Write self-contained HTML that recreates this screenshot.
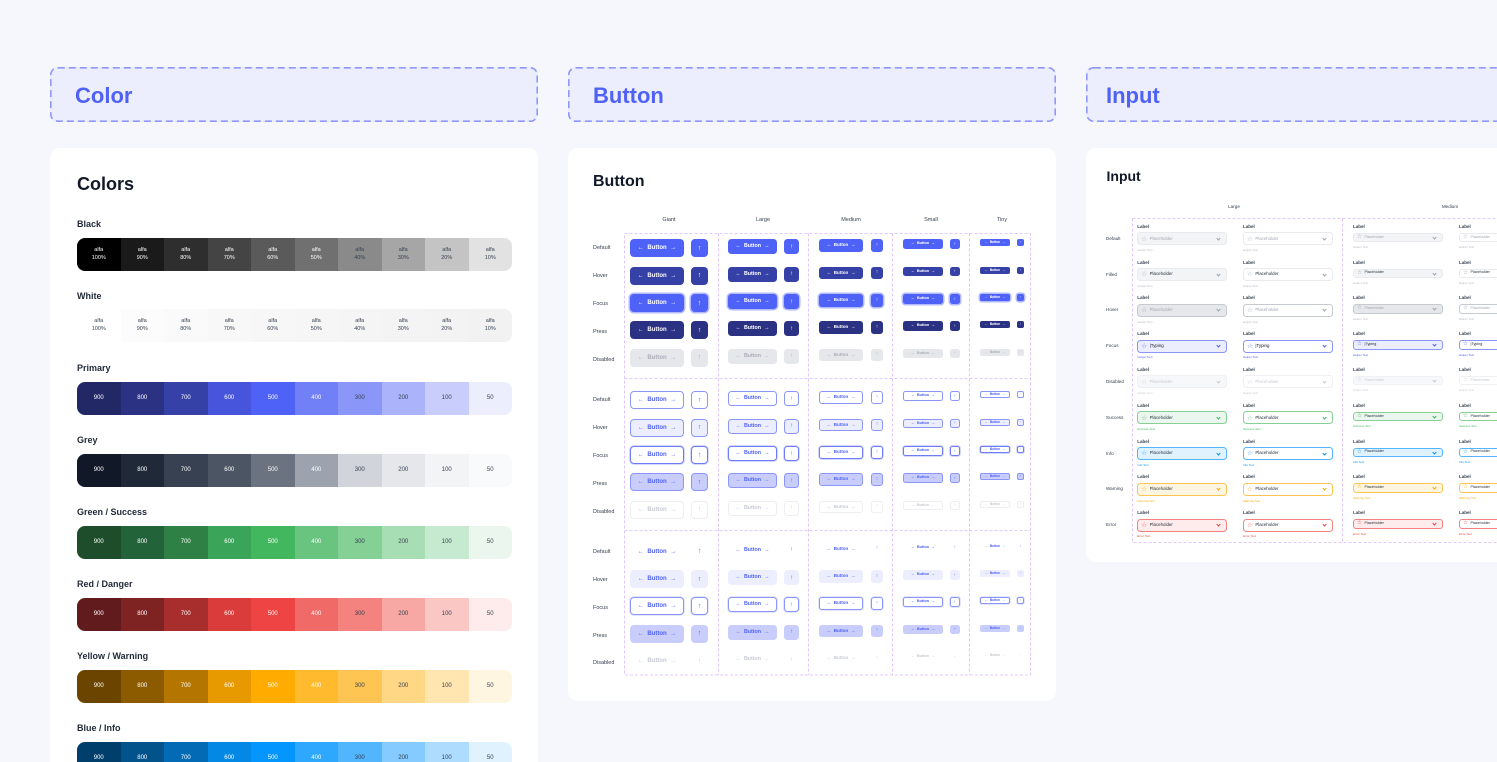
<!DOCTYPE html>
<html><head><meta charset="utf-8">
<style>
*{margin:0;padding:0}
html{width:1497px;height:762px;overflow:hidden}
body{width:1497px;height:762px;overflow:hidden;background:#f6f7fc;font-family:"Liberation Sans",sans-serif;position:relative}
.abs{position:absolute;white-space:nowrap}
.card{position:absolute;background:#fff;border-radius:10px}
.hd{position:absolute;background:#eceefd;border-radius:7px}
.ht{position:absolute;font-size:22px;line-height:24px;font-weight:bold;color:#5061f5}
.ct{position:absolute;font-weight:bold;color:#111827;white-space:nowrap}
.cl{position:absolute;left:77px;font-size:9px;line-height:12px;font-weight:bold;color:#1f2937}
.sw{position:absolute;left:77px;width:435px;height:33px;border-radius:8px;overflow:hidden;display:flex}
.sw div{flex:1;display:flex;align-items:center;justify-content:center;font-size:6px;color:#374151;text-align:center;line-height:1.4}
.sw .w{color:#fff}
.sw.al div{font-size:5.5px}
.lab{position:absolute;font-size:5.5px;line-height:6px;color:#374151;white-space:nowrap}
.colh{position:absolute;font-size:5.5px;line-height:6px;color:#374151;transform:translateX(-50%);white-space:nowrap}
.row{position:absolute;left:0;height:0;width:0}
.b{position:absolute;top:0;box-sizing:border-box;display:flex;align-items:center;justify-content:center;gap:.6em;font-weight:bold;white-space:nowrap;line-height:1}
.b i{font-style:normal;font-weight:normal}
.g{left:630px;width:54px;height:18px;border-radius:4px;font-size:6px}
.gi{left:691px;width:17px;height:18px;border-radius:4px;font-size:7px}
.l{left:728px;width:49px;height:15px;border-radius:3.5px;font-size:5.3px}
.li{left:784px;width:15px;height:15px;border-radius:3.5px;font-size:6px}
.m{left:819px;width:44px;height:12.5px;border-radius:3px;font-size:4.5px}
.mi{left:871px;width:12px;height:12.5px;border-radius:3px;font-size:5px}
.s{left:903px;width:40px;height:9.5px;border-radius:2.5px;font-size:3.8px}
.si{left:950px;width:9.5px;height:9.5px;border-radius:2.5px;font-size:4px}
.t{left:980px;width:30px;height:7px;border-radius:2px;font-size:3.2px}
.ti{left:1017px;width:7px;height:7px;border-radius:2px;font-size:3.2px}
.a1{background:#4f62f7;color:#fff}
.a2{background:#3641a8;color:#fff}
.a3{background:#4f62f7;color:#fff;box-shadow:0 0 0 1.5px #b3bafb}
.a4{background:#2b3183;color:#fff}
.a5{background:#e5e7eb;color:#a9aeb8}
.o1{background:#fff;border:1px solid #8b96f9;color:#4f62f7}
.o2{background:#eceefe;border:1px solid #8b96f9;color:#4f62f7}
.o3{background:#fff;border:1.5px solid #6f7cf8;color:#4f62f7;box-shadow:0 0 0 1px #d4d8fd}
.o4{background:#c8cdfc;border:1px solid #8b96f9;color:#4f62f7}
.o5{background:#fff;border:1px solid #eceef1;color:#c6cad2}
.h1{color:#4f62f7}
.h2{background:#eceefe;color:#4f62f7}
.h3{background:#fff;border:1px solid #8b96f9;color:#4f62f7;box-shadow:0 0 0 1px #e3e6fd}
.h4{background:#c8cdfc;color:#4f62f7}
.h5{color:#c6cad2}
.f{position:absolute;width:89.5px;height:0}
.f .lb{position:absolute;left:0;top:-3px;line-height:6px;font-size:4.5px;font-weight:bold;color:#374151;white-space:nowrap}
.f .bx{position:absolute;left:0;top:5.6px;width:89.5px;height:13px;box-sizing:border-box;border:1px solid var(--bd);border-radius:3.5px;display:flex;align-items:center;background:var(--bg);color:var(--tx);white-space:nowrap}
.f.w .bx{background:#fff}
.f .sr{font-family:"DejaVu Sans",sans-serif;font-size:6.5px;margin-left:3px;line-height:1;color:var(--ic)}
.f .ph{font-size:4.4px;margin-left:2.5px;line-height:1}
.f .cv{position:absolute;right:6px;top:3.6px;width:2px;height:2px;border-right:0.7px solid;border-bottom:0.7px solid;transform:rotate(45deg);color:var(--ic)}
.f .hp{position:absolute;left:0;top:20.3px;line-height:6px;font-size:3px;white-space:nowrap;color:var(--hp)}
.f.M .bx{top:6px;height:9.5px;border-radius:3px;border-width:.8px}
.f.M .hp{top:17.6px}
.f.M .ph{font-size:3.7px}
.f.M .sr{font-size:5.5px}
.f.M .cv{top:2.2px}
.r0{--bg:#f3f4f6;--bd:#e8eaee;--tx:#a3a8b2;--ic:#a3a8b2;--hp:#b8bcc5}
.r1{--bg:#f3f4f6;--bd:#e8eaee;--tx:#1f2937;--ic:#9ca3af;--hp:#b8bcc5}
.r2{--bg:#e5e7eb;--bd:#c6cad1;--tx:#a3a8b2;--ic:#9ca3af;--hp:#b8bcc5}
.r3{--bg:#eceefe;--bd:#8b96f9;--tx:#111827;--ic:#4f62f7;--hp:#4f62f7}
.r4{--bg:#f7f8fa;--bd:#eef0f3;--tx:#c8ccd3;--ic:#c8ccd3;--hp:#c8ccd3}
.r5{--bg:#ebf7ee;--bd:#84d095;--tx:#1f2937;--ic:#43b75e;--hp:#43b75e}
.r6{--bg:#e1f2ff;--bd:#52b6ff;--tx:#1f2937;--ic:#0496ff;--hp:#0496ff}
.r7{--bg:#fff6e2;--bd:#ffc552;--tx:#1f2937;--ic:#ffab00;--hp:#ffab00}
.r8{--bg:#fdeceb;--bd:#f4837f;--tx:#1f2937;--ic:#ef4444;--hp:#ef4444}
.il{position:absolute;left:1106px;font-size:4.6px;line-height:6px;color:#374151;white-space:nowrap}
svg.ov{position:absolute;left:0;top:0;pointer-events:none}
</style></head><body>

<!-- headers -->
<div class="hd" style="left:50px;top:67px;width:488px;height:55px"></div>
<div class="hd" style="left:568px;top:67px;width:488px;height:55px"></div>
<div class="hd" style="left:1086px;top:67px;width:411px;height:55px;border-radius:7px 0 0 7px"></div>
<div class="ht" style="left:75px;top:84px">Color</div>
<div class="ht" style="left:593px;top:84px">Button</div>
<div class="ht" style="left:1106px;top:84px">Input</div>

<!-- cards -->
<div class="card" style="left:50px;top:148px;width:488px;height:614px;border-radius:10px 10px 0 0"></div>
<div class="card" style="left:568px;top:148px;width:488px;height:553px"></div>
<div class="card" style="left:1086px;top:148px;width:411px;height:414px;border-radius:10px 0 0 10px"></div>

<!-- COLOR CARD -->
<div class="ct" style="left:77px;top:173px;font-size:18px;line-height:22px">Colors</div>

<div class="cl" style="top:218px">Black</div>
<div class="sw al" style="top:238px">
<div class="w" style="background:#000">alfa<br>100%</div>
<div class="w" style="background:#1a1a1a">alfa<br>90%</div>
<div class="w" style="background:#2e2e2e">alfa<br>80%</div>
<div class="w" style="background:#444">alfa<br>70%</div>
<div class="w" style="background:#5a5a5a">alfa<br>60%</div>
<div class="w" style="background:#707070">alfa<br>50%</div>
<div style="background:#8a8a8a">alfa<br>40%</div>
<div style="background:#a6a6a6">alfa<br>30%</div>
<div style="background:#c4c4c4">alfa<br>20%</div>
<div style="background:#e2e2e2">alfa<br>10%</div>
</div>

<div class="cl" style="top:290px">White</div>
<div class="sw al" style="top:309px;box-shadow:inset 0 0 0 1px #f0f1f3">
<div style="background:#fff">alfa<br>100%</div>
<div style="background:#fcfcfc">alfa<br>90%</div>
<div style="background:#fafafa">alfa<br>80%</div>
<div style="background:#f8f8f8">alfa<br>70%</div>
<div style="background:#f7f7f7">alfa<br>60%</div>
<div style="background:#f6f6f6">alfa<br>50%</div>
<div style="background:#f5f5f5">alfa<br>40%</div>
<div style="background:#f4f4f4">alfa<br>30%</div>
<div style="background:#f3f3f3">alfa<br>20%</div>
<div style="background:#f2f2f2">alfa<br>10%</div>
</div>

<div class="cl" style="top:362px">Primary</div>
<div class="sw" style="top:382px">
<div class="w" style="background:#222766">900</div>
<div class="w" style="background:#2b3183">800</div>
<div class="w" style="background:#3641a8">700</div>
<div class="w" style="background:#4655dc">600</div>
<div class="w" style="background:#4f62f7">500</div>
<div class="w" style="background:#7280f8">400</div>
<div style="background:#8b96f9">300</div>
<div style="background:#abb3fa">200</div>
<div style="background:#c8cdfc">100</div>
<div style="background:#eceefe">50</div>
</div>

<div class="cl" style="top:434px">Grey</div>
<div class="sw" style="top:454px">
<div class="w" style="background:#111827">900</div>
<div class="w" style="background:#1f2937">800</div>
<div class="w" style="background:#374151">700</div>
<div class="w" style="background:#4b5563">600</div>
<div class="w" style="background:#6b7280">500</div>
<div class="w" style="background:#9ca3af">400</div>
<div style="background:#d1d5db">300</div>
<div style="background:#e5e7eb">200</div>
<div style="background:#f3f4f6">100</div>
<div style="background:#f9fafb">50</div>
</div>

<div class="cl" style="top:506px">Green / Success</div>
<div class="sw" style="top:526px">
<div class="w" style="background:#1e4d2b">900</div>
<div class="w" style="background:#22633a">800</div>
<div class="w" style="background:#2f8044">700</div>
<div class="w" style="background:#3aa458">600</div>
<div class="w" style="background:#43b75e">500</div>
<div class="w" style="background:#68c47e">400</div>
<div style="background:#84d095">300</div>
<div style="background:#a8deb3">200</div>
<div style="background:#c6ead0">100</div>
<div style="background:#ebf7ee">50</div>
</div>

<div class="cl" style="top:578px">Red / Danger</div>
<div class="sw" style="top:598px">
<div class="w" style="background:#621b1c">900</div>
<div class="w" style="background:#7f2222">800</div>
<div class="w" style="background:#a82d2d">700</div>
<div class="w" style="background:#d93c3a">600</div>
<div class="w" style="background:#ef4444">500</div>
<div class="w" style="background:#f06a67">400</div>
<div style="background:#f4837f">300</div>
<div style="background:#f7a8a5">200</div>
<div style="background:#fac7c5">100</div>
<div style="background:#fdeceb">50</div>
</div>

<div class="cl" style="top:650px">Yellow / Warning</div>
<div class="sw" style="top:670px">
<div class="w" style="background:#6b4500">900</div>
<div class="w" style="background:#8c5b00">800</div>
<div class="w" style="background:#b57600">700</div>
<div class="w" style="background:#e69a00">600</div>
<div class="w" style="background:#ffab00">500</div>
<div class="w" style="background:#ffba2e">400</div>
<div style="background:#ffc552">300</div>
<div style="background:#ffd785">200</div>
<div style="background:#ffe6b0">100</div>
<div style="background:#fff6e2">50</div>
</div>

<div class="cl" style="top:722px">Blue / Info</div>
<div class="sw" style="top:742px">
<div class="w" style="background:#003e6b">900</div>
<div class="w" style="background:#02528c">800</div>
<div class="w" style="background:#036ab5">700</div>
<div class="w" style="background:#0388e6">600</div>
<div class="w" style="background:#0496ff">500</div>
<div class="w" style="background:#2ea7ff">400</div>
<div style="background:#52b6ff">300</div>
<div style="background:#85cbff">200</div>
<div style="background:#aedcff">100</div>
<div style="background:#e1f2ff">50</div>
</div>

<!-- BUTTON CARD -->
<div class="ct" style="left:593px;top:172px;font-size:16px;line-height:20px">Button</div>
<div class="colh" style="left:669px;top:217px">Giant</div>
<div class="colh" style="left:763px;top:217px">Large</div>
<div class="colh" style="left:851px;top:217px">Medium</div>
<div class="colh" style="left:931px;top:217px">Small</div>
<div class="colh" style="left:1002px;top:217px">Tiny</div>

<div class="lab" style="left:593px;top:245px">Default</div>
<div class="lab" style="left:593px;top:273px">Hover</div>
<div class="lab" style="left:593px;top:301px">Focus</div>
<div class="lab" style="left:593px;top:329px">Press</div>
<div class="lab" style="left:593px;top:357px">Disabled</div>
<div class="lab" style="left:593px;top:397px">Default</div>
<div class="lab" style="left:593px;top:425px">Hover</div>
<div class="lab" style="left:593px;top:453px">Focus</div>
<div class="lab" style="left:593px;top:481px">Press</div>
<div class="lab" style="left:593px;top:509px">Disabled</div>
<div class="lab" style="left:593px;top:549px">Default</div>
<div class="lab" style="left:593px;top:577px">Hover</div>
<div class="lab" style="left:593px;top:605px">Focus</div>
<div class="lab" style="left:593px;top:633px">Press</div>
<div class="lab" style="left:593px;top:660px">Disabled</div>

<!-- section 1 -->
<div class="row" style="top:239.3px"><div class="b g a1"><i>←</i>Button<i>→</i></div><div class="b gi a1">↑</div><div class="b l a1"><i>←</i>Button<i>→</i></div><div class="b li a1">↑</div><div class="b m a1"><i>←</i>Button<i>→</i></div><div class="b mi a1">↑</div><div class="b s a1"><i>←</i>Button<i>→</i></div><div class="b si a1">↑</div><div class="b t a1"><i>←</i>Button<i>→</i></div><div class="b ti a1">↑</div></div>
<div class="row" style="top:266.7px"><div class="b g a2"><i>←</i>Button<i>→</i></div><div class="b gi a2">↑</div><div class="b l a2"><i>←</i>Button<i>→</i></div><div class="b li a2">↑</div><div class="b m a2"><i>←</i>Button<i>→</i></div><div class="b mi a2">↑</div><div class="b s a2"><i>←</i>Button<i>→</i></div><div class="b si a2">↑</div><div class="b t a2"><i>←</i>Button<i>→</i></div><div class="b ti a2">↑</div></div>
<div class="row" style="top:294px"><div class="b g a3"><i>←</i>Button<i>→</i></div><div class="b gi a3">↑</div><div class="b l a3"><i>←</i>Button<i>→</i></div><div class="b li a3">↑</div><div class="b m a3"><i>←</i>Button<i>→</i></div><div class="b mi a3">↑</div><div class="b s a3"><i>←</i>Button<i>→</i></div><div class="b si a3">↑</div><div class="b t a3"><i>←</i>Button<i>→</i></div><div class="b ti a3">↑</div></div>
<div class="row" style="top:321.3px"><div class="b g a4"><i>←</i>Button<i>→</i></div><div class="b gi a4">↑</div><div class="b l a4"><i>←</i>Button<i>→</i></div><div class="b li a4">↑</div><div class="b m a4"><i>←</i>Button<i>→</i></div><div class="b mi a4">↑</div><div class="b s a4"><i>←</i>Button<i>→</i></div><div class="b si a4">↑</div><div class="b t a4"><i>←</i>Button<i>→</i></div><div class="b ti a4">↑</div></div>
<div class="row" style="top:348.7px"><div class="b g a5"><i>←</i>Button<i>→</i></div><div class="b gi a5">↑</div><div class="b l a5"><i>←</i>Button<i>→</i></div><div class="b li a5">↑</div><div class="b m a5"><i>←</i>Button<i>→</i></div><div class="b mi a5">↑</div><div class="b s a5"><i>←</i>Button<i>→</i></div><div class="b si a5">↑</div><div class="b t a5"><i>←</i>Button<i>→</i></div><div class="b ti a5">↑</div></div>

<!-- section 2 -->
<div class="row" style="top:391.3px"><div class="b g o1"><i>←</i>Button<i>→</i></div><div class="b gi o1">↑</div><div class="b l o1"><i>←</i>Button<i>→</i></div><div class="b li o1">↑</div><div class="b m o1"><i>←</i>Button<i>→</i></div><div class="b mi o1">↑</div><div class="b s o1"><i>←</i>Button<i>→</i></div><div class="b si o1">↑</div><div class="b t o1"><i>←</i>Button<i>→</i></div><div class="b ti o1">↑</div></div>
<div class="row" style="top:418.7px"><div class="b g o2"><i>←</i>Button<i>→</i></div><div class="b gi o2">↑</div><div class="b l o2"><i>←</i>Button<i>→</i></div><div class="b li o2">↑</div><div class="b m o2"><i>←</i>Button<i>→</i></div><div class="b mi o2">↑</div><div class="b s o2"><i>←</i>Button<i>→</i></div><div class="b si o2">↑</div><div class="b t o2"><i>←</i>Button<i>→</i></div><div class="b ti o2">↑</div></div>
<div class="row" style="top:446px"><div class="b g o3"><i>←</i>Button<i>→</i></div><div class="b gi o3">↑</div><div class="b l o3"><i>←</i>Button<i>→</i></div><div class="b li o3">↑</div><div class="b m o3"><i>←</i>Button<i>→</i></div><div class="b mi o3">↑</div><div class="b s o3"><i>←</i>Button<i>→</i></div><div class="b si o3">↑</div><div class="b t o3"><i>←</i>Button<i>→</i></div><div class="b ti o3">↑</div></div>
<div class="row" style="top:473.3px"><div class="b g o4"><i>←</i>Button<i>→</i></div><div class="b gi o4">↑</div><div class="b l o4"><i>←</i>Button<i>→</i></div><div class="b li o4">↑</div><div class="b m o4"><i>←</i>Button<i>→</i></div><div class="b mi o4">↑</div><div class="b s o4"><i>←</i>Button<i>→</i></div><div class="b si o4">↑</div><div class="b t o4"><i>←</i>Button<i>→</i></div><div class="b ti o4">↑</div></div>
<div class="row" style="top:500.7px"><div class="b g o5"><i>←</i>Button<i>→</i></div><div class="b gi o5">↑</div><div class="b l o5"><i>←</i>Button<i>→</i></div><div class="b li o5">↑</div><div class="b m o5"><i>←</i>Button<i>→</i></div><div class="b mi o5">↑</div><div class="b s o5"><i>←</i>Button<i>→</i></div><div class="b si o5">↑</div><div class="b t o5"><i>←</i>Button<i>→</i></div><div class="b ti o5">↑</div></div>

<!-- section 3 -->
<div class="row" style="top:542.7px"><div class="b g h1"><i>←</i>Button<i>→</i></div><div class="b gi h1">↑</div><div class="b l h1"><i>←</i>Button<i>→</i></div><div class="b li h1">↑</div><div class="b m h1"><i>←</i>Button<i>→</i></div><div class="b mi h1">↑</div><div class="b s h1"><i>←</i>Button<i>→</i></div><div class="b si h1">↑</div><div class="b t h1"><i>←</i>Button<i>→</i></div><div class="b ti h1">↑</div></div>
<div class="row" style="top:570px"><div class="b g h2"><i>←</i>Button<i>→</i></div><div class="b gi h2">↑</div><div class="b l h2"><i>←</i>Button<i>→</i></div><div class="b li h2">↑</div><div class="b m h2"><i>←</i>Button<i>→</i></div><div class="b mi h2">↑</div><div class="b s h2"><i>←</i>Button<i>→</i></div><div class="b si h2">↑</div><div class="b t h2"><i>←</i>Button<i>→</i></div><div class="b ti h2">↑</div></div>
<div class="row" style="top:597.3px"><div class="b g h3"><i>←</i>Button<i>→</i></div><div class="b gi h3">↑</div><div class="b l h3"><i>←</i>Button<i>→</i></div><div class="b li h3">↑</div><div class="b m h3"><i>←</i>Button<i>→</i></div><div class="b mi h3">↑</div><div class="b s h3"><i>←</i>Button<i>→</i></div><div class="b si h3">↑</div><div class="b t h3"><i>←</i>Button<i>→</i></div><div class="b ti h3">↑</div></div>
<div class="row" style="top:624.7px"><div class="b g h4"><i>←</i>Button<i>→</i></div><div class="b gi h4">↑</div><div class="b l h4"><i>←</i>Button<i>→</i></div><div class="b li h4">↑</div><div class="b m h4"><i>←</i>Button<i>→</i></div><div class="b mi h4">↑</div><div class="b s h4"><i>←</i>Button<i>→</i></div><div class="b si h4">↑</div><div class="b t h4"><i>←</i>Button<i>→</i></div><div class="b ti h4">↑</div></div>
<div class="row" style="top:652px"><div class="b g h5"><i>←</i>Button<i>→</i></div><div class="b gi h5">↑</div><div class="b l h5"><i>←</i>Button<i>→</i></div><div class="b li h5">↑</div><div class="b m h5"><i>←</i>Button<i>→</i></div><div class="b mi h5">↑</div><div class="b s h5"><i>←</i>Button<i>→</i></div><div class="b si h5">↑</div><div class="b t h5"><i>←</i>Button<i>→</i></div><div class="b ti h5">↑</div></div>

<!-- INPUT CARD -->
<div class="ct" style="left:1106.5px;top:167px;font-size:14px;line-height:18px">Input</div>
<div class="colh" style="left:1234px;top:204px;font-size:4.6px">Large</div>
<div class="colh" style="left:1450px;top:204px;font-size:4.6px">Medium</div>

<div class="il" style="top:235.8px">Default</div>
<div class="il" style="top:271.6px">Filled</div>
<div class="il" style="top:307.4px">Hover</div>
<div class="il" style="top:343.2px">Focus</div>
<div class="il" style="top:379px">Disabled</div>
<div class="il" style="top:414.8px">Success</div>
<div class="il" style="top:450.6px">Info</div>
<div class="il" style="top:486.4px">Warning</div>
<div class="il" style="top:522.2px">Error</div>

<!-- row 0 default -->
<div class="f r0" style="left:1137.3px;top:226.7px"><div class="lb">Label</div><div class="bx"><span class="sr">☆</span><span class="ph">Placeholder</span><span class="cv"></span></div><div class="hp">Helper Text</div></div>
<div class="f r0 w" style="left:1243px;top:226.7px"><div class="lb">Label</div><div class="bx"><span class="sr">☆</span><span class="ph">Placeholder</span><span class="cv"></span></div><div class="hp">Helper Text</div></div>
<div class="f r0 M" style="left:1353px;top:226.7px"><div class="lb">Label</div><div class="bx"><span class="sr">☆</span><span class="ph">Placeholder</span><span class="cv"></span></div><div class="hp">Helper Text</div></div>
<div class="f r0 M w" style="left:1459px;top:226.7px"><div class="lb">Label</div><div class="bx"><span class="sr">☆</span><span class="ph">Placeholder</span><span class="cv"></span></div><div class="hp">Helper Text</div></div>
<!-- row 1 filled -->
<div class="f r1" style="left:1137.3px;top:262.5px"><div class="lb">Label</div><div class="bx"><span class="sr">☆</span><span class="ph">Placeholder</span><span class="cv"></span></div><div class="hp">Helper Text</div></div>
<div class="f r1 w" style="left:1243px;top:262.5px"><div class="lb">Label</div><div class="bx"><span class="sr">☆</span><span class="ph">Placeholder</span><span class="cv"></span></div><div class="hp">Helper Text</div></div>
<div class="f r1 M" style="left:1353px;top:262.5px"><div class="lb">Label</div><div class="bx"><span class="sr">☆</span><span class="ph">Placeholder</span><span class="cv"></span></div><div class="hp">Helper Text</div></div>
<div class="f r1 M w" style="left:1459px;top:262.5px"><div class="lb">Label</div><div class="bx"><span class="sr">☆</span><span class="ph">Placeholder</span><span class="cv"></span></div><div class="hp">Helper Text</div></div>
<!-- row 2 hover -->
<div class="f r2" style="left:1137.3px;top:298.3px"><div class="lb">Label</div><div class="bx"><span class="sr">☆</span><span class="ph">Placeholder</span><span class="cv"></span></div><div class="hp">Helper Text</div></div>
<div class="f r2 w" style="left:1243px;top:298.3px"><div class="lb">Label</div><div class="bx"><span class="sr">☆</span><span class="ph">Placeholder</span><span class="cv"></span></div><div class="hp">Helper Text</div></div>
<div class="f r2 M" style="left:1353px;top:298.3px"><div class="lb">Label</div><div class="bx"><span class="sr">☆</span><span class="ph">Placeholder</span><span class="cv"></span></div><div class="hp">Helper Text</div></div>
<div class="f r2 M w" style="left:1459px;top:298.3px"><div class="lb">Label</div><div class="bx"><span class="sr">☆</span><span class="ph">Placeholder</span><span class="cv"></span></div><div class="hp">Helper Text</div></div>
<!-- row 3 focus -->
<div class="f r3" style="left:1137.3px;top:334.1px"><div class="lb">Label</div><div class="bx"><span class="sr">☆</span><span class="ph">|Typing</span><span class="cv"></span></div><div class="hp">Helper Text</div></div>
<div class="f r3 w" style="left:1243px;top:334.1px"><div class="lb">Label</div><div class="bx"><span class="sr">☆</span><span class="ph">|Typing</span><span class="cv"></span></div><div class="hp">Helper Text</div></div>
<div class="f r3 M" style="left:1353px;top:334.1px"><div class="lb">Label</div><div class="bx"><span class="sr">☆</span><span class="ph">|Typing</span><span class="cv"></span></div><div class="hp">Helper Text</div></div>
<div class="f r3 M w" style="left:1459px;top:334.1px"><div class="lb">Label</div><div class="bx"><span class="sr">☆</span><span class="ph">|Typing</span><span class="cv"></span></div><div class="hp">Helper Text</div></div>
<!-- row 4 disabled -->
<div class="f r4" style="left:1137.3px;top:369.9px"><div class="lb">Label</div><div class="bx"><span class="sr">☆</span><span class="ph">Placeholder</span><span class="cv"></span></div><div class="hp">Helper Text</div></div>
<div class="f r4 w" style="left:1243px;top:369.9px"><div class="lb">Label</div><div class="bx"><span class="sr">☆</span><span class="ph">Placeholder</span><span class="cv"></span></div><div class="hp">Helper Text</div></div>
<div class="f r4 M" style="left:1353px;top:369.9px"><div class="lb">Label</div><div class="bx"><span class="sr">☆</span><span class="ph">Placeholder</span><span class="cv"></span></div><div class="hp">Helper Text</div></div>
<div class="f r4 M w" style="left:1459px;top:369.9px"><div class="lb">Label</div><div class="bx"><span class="sr">☆</span><span class="ph">Placeholder</span><span class="cv"></span></div><div class="hp">Helper Text</div></div>
<!-- row 5 success -->
<div class="f r5" style="left:1137.3px;top:405.7px"><div class="lb">Label</div><div class="bx"><span class="sr">☆</span><span class="ph">Placeholder</span><span class="cv"></span></div><div class="hp">Success Text</div></div>
<div class="f r5 w" style="left:1243px;top:405.7px"><div class="lb">Label</div><div class="bx"><span class="sr">☆</span><span class="ph">Placeholder</span><span class="cv"></span></div><div class="hp">Success Text</div></div>
<div class="f r5 M" style="left:1353px;top:405.7px"><div class="lb">Label</div><div class="bx"><span class="sr">☆</span><span class="ph">Placeholder</span><span class="cv"></span></div><div class="hp">Success Text</div></div>
<div class="f r5 M w" style="left:1459px;top:405.7px"><div class="lb">Label</div><div class="bx"><span class="sr">☆</span><span class="ph">Placeholder</span><span class="cv"></span></div><div class="hp">Success Text</div></div>
<!-- row 6 info -->
<div class="f r6" style="left:1137.3px;top:441.5px"><div class="lb">Label</div><div class="bx"><span class="sr">☆</span><span class="ph">Placeholder</span><span class="cv"></span></div><div class="hp">Info Text</div></div>
<div class="f r6 w" style="left:1243px;top:441.5px"><div class="lb">Label</div><div class="bx"><span class="sr">☆</span><span class="ph">Placeholder</span><span class="cv"></span></div><div class="hp">Info Text</div></div>
<div class="f r6 M" style="left:1353px;top:441.5px"><div class="lb">Label</div><div class="bx"><span class="sr">☆</span><span class="ph">Placeholder</span><span class="cv"></span></div><div class="hp">Info Text</div></div>
<div class="f r6 M w" style="left:1459px;top:441.5px"><div class="lb">Label</div><div class="bx"><span class="sr">☆</span><span class="ph">Placeholder</span><span class="cv"></span></div><div class="hp">Info Text</div></div>
<!-- row 7 warning -->
<div class="f r7" style="left:1137.3px;top:477.3px"><div class="lb">Label</div><div class="bx"><span class="sr">☆</span><span class="ph">Placeholder</span><span class="cv"></span></div><div class="hp">Warning Text</div></div>
<div class="f r7 w" style="left:1243px;top:477.3px"><div class="lb">Label</div><div class="bx"><span class="sr">☆</span><span class="ph">Placeholder</span><span class="cv"></span></div><div class="hp">Warning Text</div></div>
<div class="f r7 M" style="left:1353px;top:477.3px"><div class="lb">Label</div><div class="bx"><span class="sr">☆</span><span class="ph">Placeholder</span><span class="cv"></span></div><div class="hp">Warning Text</div></div>
<div class="f r7 M w" style="left:1459px;top:477.3px"><div class="lb">Label</div><div class="bx"><span class="sr">☆</span><span class="ph">Placeholder</span><span class="cv"></span></div><div class="hp">Warning Text</div></div>
<!-- row 8 error -->
<div class="f r8" style="left:1137.3px;top:513.1px"><div class="lb">Label</div><div class="bx"><span class="sr">☆</span><span class="ph">Placeholder</span><span class="cv"></span></div><div class="hp">Error Text</div></div>
<div class="f r8 w" style="left:1243px;top:513.1px"><div class="lb">Label</div><div class="bx"><span class="sr">☆</span><span class="ph">Placeholder</span><span class="cv"></span></div><div class="hp">Error Text</div></div>
<div class="f r8 M" style="left:1353px;top:513.1px"><div class="lb">Label</div><div class="bx"><span class="sr">☆</span><span class="ph">Placeholder</span><span class="cv"></span></div><div class="hp">Error Text</div></div>
<div class="f r8 M w" style="left:1459px;top:513.1px"><div class="lb">Label</div><div class="bx"><span class="sr">☆</span><span class="ph">Placeholder</span><span class="cv"></span></div><div class="hp">Error Text</div></div>

<!-- dashed overlays -->
<svg class="ov" width="1497" height="762" viewBox="0 0 1497 762">
 <g fill="none" stroke="#8f98f9" stroke-width="1.6" stroke-dasharray="7 4">
  <rect x="50.8" y="67.8" width="486.4" height="53.4" rx="7"/>
  <rect x="568.8" y="67.8" width="486.4" height="53.4" rx="7"/>
  <rect x="1086.8" y="67.8" width="500" height="53.4" rx="7"/>
 </g>
 <g fill="none" stroke="#d6b8fc" stroke-width="0.8" stroke-dasharray="3 2">
  <rect x="624.5" y="233.5" width="406" height="441.5"/>
  <line x1="624.5" y1="378.5" x2="1030.5" y2="378.5"/>
  <line x1="624.5" y1="530.5" x2="1030.5" y2="530.5"/>
  <line x1="718.5" y1="233.5" x2="718.5" y2="675"/>
  <line x1="808.5" y1="233.5" x2="808.5" y2="675"/>
  <line x1="892.5" y1="233.5" x2="892.5" y2="675"/>
  <line x1="969.5" y1="233.5" x2="969.5" y2="675"/>
  <rect x="1132.5" y="218.5" width="500" height="324"/>
  <line x1="1342.5" y1="218.5" x2="1342.5" y2="542.5"/>
 </g>
</svg>
</body></html>
